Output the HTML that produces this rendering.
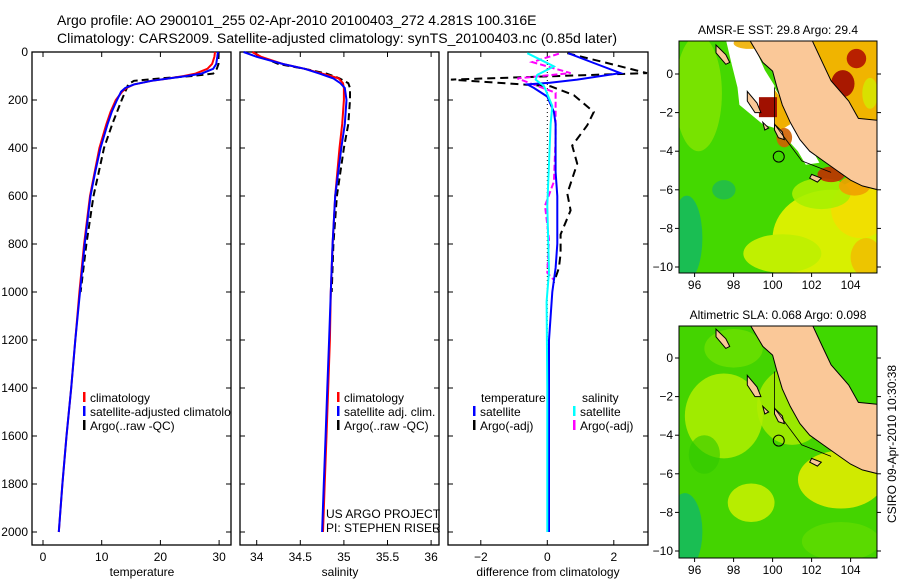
<!DOCTYPE html>
<html><head><meta charset="utf-8"><style>
body{margin:0;background:#fff;}
svg{display:block;font-family:"Liberation Sans",sans-serif;}
</style></head><body>
<svg id="chart" width="900" height="580" viewBox="0 0 900 580">
<defs><clipPath id="p1clip"><rect x="32" y="52" width="199" height="493"/></clipPath></defs>
<text x="57" y="25" font-size="14">Argo profile: AO 2900101_255 02-Apr-2010 20100403_272 4.281S 100.316E</text>
<text x="57" y="43" font-size="14" textLength="560">Climatology: CARS2009. Satellite-adjusted climatology: synTS_20100403.nc (0.85d later)</text>
<g id="g"></g>
</svg>
<script>
// ---------- data ----------
const tDepth=[0,20,50,70,90,100,110,120,135,150,165,200,250,300,400,500,600,800,1000,1200,1400,1600,1800,2000];
const tempClim=[29.3,29.2,28.8,28.0,26.0,24.0,21.5,18.5,15.5,14.2,13.5,12.4,11.5,10.8,9.6,8.8,8.0,7.0,6.2,5.5,4.8,4.0,3.3,2.7];
const tempSat=[29.8,29.7,29.5,29.0,27.0,24.5,21.5,18.5,15.5,14.0,13.3,12.6,11.7,11.0,9.8,8.9,8.1,7.1,6.3,5.5,4.8,4.0,3.3,2.7];
const tempArgo=[29.8,29.9,29.9,29.6,29.0,25.5,20.0,15.5,14.5,14.3,14.0,13.4,12.6,11.8,10.4,9.5,8.6,7.4,6.4];
const sDepth=[0,20,50,70,90,100,110,130,150,200,300,400,600,800,1000,1200,1400,1600,1800,2000];
const salClim=[33.95,34.05,34.30,34.55,34.75,34.85,34.94,34.99,35.00,35.00,34.98,34.95,34.90,34.87,34.85,34.84,34.82,34.80,34.78,34.76];
const salSat=[33.85,34.00,34.30,34.55,34.72,34.80,34.88,34.96,35.01,35.03,35.01,34.97,34.90,34.87,34.85,34.83,34.81,34.79,34.77,34.75];
const salArgo=[33.95,34.05,34.25,34.55,34.80,34.88,34.95,35.05,35.07,35.07,35.05,35.00,34.92,34.88,34.86];
const dDepth=[5,46,88,115,128,135,150,186,250,300,400,500,600,700,800,900,1000,1200,1400,1600,1800,2000];
const dTempSat=[0.63,1.4,2.2,0.9,0.08,-0.6,-0.4,0.0,0.2,0.25,0.25,0.25,0.3,0.3,0.3,0.25,0.15,0.05,0.05,0.05,0.05,0.05];
const daDepth=[5,46,88,115,143,180,250,306,390,465,590,660,760,840,900,960];
const dTempArgo=[0.6,1.8,3.0,-2.9,0.1,0.8,1.4,1.2,0.75,0.9,0.6,0.7,0.4,0.4,0.35,0.2];
const csDepth=[5,60,95,115,142,225,300,640,915,1040,1400,2000];
const dSalSat=[-0.6,0.2,-0.3,-0.35,-0.1,0.15,0.1,0.0,0.05,-0.02,0.0,0.0];
const msDepth=[7,42,88,110,170,360,540,640,780,920,950];
const dSalArgo=[0.35,-0.45,0.7,-0.9,0.25,0.25,0.2,-0.07,0.05,0.0,0.2];
const depthTicks=[0,200,400,600,800,1000,1200,1400,1600,1800,2000];
const tempTicks=[0,10,20,30];
const salTicks=[34,34.5,35,35.5,36];
const diffTicks=[-2,0,2];
const latTicks=[0,-2,-4,-6,-8,-10];
const lonTicks=[96,98,100,102,104];
// ---------- helpers ----------
const NS="http://www.w3.org/2000/svg";
const G=document.getElementById('g');
function mk(tag,at,parent){const e=document.createElementNS(NS,tag);for(const k in at)e.setAttribute(k,at[k]);(parent||G).appendChild(e);return e;}
const yD=d=>52+d*0.24;
const xT=v=>43+v*5.87;
const xS=v=>256.7+(v-34)*87.2;
const xDf=v=>547.3+v*33.25;
function frame(x0,x1,name){
  const r=mk('rect',{x:x0,y:52,width:x1-x0,height:493,fill:'none',stroke:'#000','stroke-width':1.3});
  
  
}
function depthAxis(x0,x1,labels){
  depthTicks.forEach(d=>{
    const y=yD(d);
    mk('line',{x1:x0,x2:x0+5,y1:y,y2:y,stroke:'#000'});
    mk('line',{x1:x1,x2:x1-5,y1:y,y2:y,stroke:'#000'});
    if(labels){const t=mk('text',{x:x0-4,y:y+4,'font-size':12,'text-anchor':'end'});t.textContent=d;
      
      }
  });
}
function xAxis(ticks,fx,fmt,title,cx,name){
  ticks.forEach(v=>{const x=fx(v);
    mk('line',{x1:x,x2:x,y1:545,y2:540,stroke:'#000'});
    mk('line',{x1:x,x2:x,y1:52,y2:57,stroke:'#000'});
    const t=mk('text',{x:x,y:561,'font-size':12,'text-anchor':'middle'});t.textContent=fmt(v);
    
    });
  const t=mk('text',{x:cx,y:576,'font-size':12,'text-anchor':'middle'});t.textContent=title;
  
  
}
function line(depths,vals,fx,color,w,dash,name){
  const pts=vals.map((v,i)=>fx(v).toFixed(1)+','+yD(depths[i]).toFixed(1)).join(' ');
  const p=mk('polyline',{points:pts,fill:'none',stroke:color,'stroke-width':w,'stroke-dasharray':dash||'none'});
  
  
}
function legend(x,y,color,txt,name,clip){
  mk('rect',{x:x,y:y-6,width:2.5,height:10,fill:color});
  const t=mk('text',{x:x+7,y:y+4,'font-size':12});t.textContent=txt;
  if(clip)t.setAttribute('clip-path','url(#p1clip)');
  
  
}
// ---------- panel 1 ----------
frame(32,231,'temperature-panel');depthAxis(32,231,true);
xAxis(tempTicks,xT,v=>v,'temperature',142,'temperature');
line(tDepth.slice(0,tempArgo.length),tempArgo,xT,'#000',2,'7,4','temp-argo-line');
line(tDepth,tempClim,xT,'#f00',2,null,'temp-climatology-line');
line(tDepth,tempSat,xT,'#00f',2,null,'temp-satellite-line');
legend(83,398,'#f00','climatology','legend-climatology');
legend(83,412,'#00f','satellite-adjusted climatology','legend-satellite',true);
legend(83,426,'#000','Argo(..raw -QC)','legend-argo');
// ---------- panel 2 ----------
frame(240,439,'salinity-panel');depthAxis(240,439,false);
xAxis(salTicks,xS,v=>v,'salinity',340,'salinity');
line(sDepth.slice(0,salArgo.length),salArgo,xS,'#000',2,'7,4','sal-argo-line');
line(sDepth,salClim,xS,'#f00',2,null,'sal-climatology-line');
line(sDepth,salSat,xS,'#00f',2,null,'sal-satellite-line');
legend(337,398,'#f00','climatology','legend-sal-climatology');
legend(337,412,'#00f','satellite adj. clim.','legend-sal-satellite');
legend(337,426,'#000','Argo(..raw -QC)','legend-sal-argo');
{const t=mk('text',{x:326,y:518,'font-size':12});t.textContent='US ARGO PROJECT';


const t2=mk('text',{x:326,y:532,'font-size':12});t2.textContent='PI: STEPHEN RISER';

}
// ---------- panel 3 ----------
frame(448,648,'difference-panel');depthAxis(448,648,false);
xAxis(diffTicks,xDf,v=>v===-2?'\u22122':v,'difference from climatology',548,'difference');
mk('line',{x1:xDf(0),x2:xDf(0),y1:yD(0),y2:yD(2000),stroke:'#000','stroke-dasharray':'1,3'});
line(daDepth,dTempArgo,xDf,'#000',2,'8,5','diff-temp-argo-line');
line(msDepth,dSalArgo,xDf,'#f0f',2,'6,3','diff-sal-argo-line');
line(dDepth,dTempSat,xDf,'#00f',2,null,'diff-temp-satellite-line');
line(csDepth,dSalSat,xDf,'#0ff',2,null,'diff-sal-satellite-line');
{const t=mk('text',{x:481,y:402,'font-size':12});t.textContent='temperature';


const t2=mk('text',{x:582,y:402,'font-size':12});t2.textContent='salinity';

}
legend(473,412,'#00f','satellite','legend-diff-temp-sat');
legend(473,426,'#000','Argo(-adj)','legend-diff-temp-argo');
legend(573,412,'#0ff','satellite','legend-diff-sal-sat');
legend(573,426,'#f0f','Argo(-adj)','legend-diff-sal-argo');
// ---------- maps ----------
const mx=lon=>679+(lon-95.2)*19.5;
function drawMap(top,lat0y,title,kind){
  const my=lat=>lat0y-lat*19.3;
  const P=a=>a.map(p=>mx(p[0]).toFixed(1)+','+my(p[1]).toFixed(1)).join(' ');
  const x0=679,x1=877,y0=top,y1=top+232;
  const cid='clip'+kind;
  const cp=mk('clipPath',{id:cid});mk('rect',{x:x0,y:y0,width:x1-x0,height:y1-y0},cp);
  const g=mk('g',{'clip-path':'url(#'+cid+')'});
  
  
  const blob=(lon,lat,rx,ry,c,o)=>mk('ellipse',{cx:mx(lon),cy:my(lat),rx:rx*19.5,ry:ry*19.3,fill:c,opacity:o},g);
  if(kind==='sst'){
    mk('rect',{x:x0,y:y0,width:x1-x0,height:y1-y0,fill:'#44d800'},g);
    blob(96.2,-1,1.2,3,'#7ee400',0.9);
    blob(95.6,-8.5,0.8,2.2,'#10b868',0.8);blob(97.5,-6,0.6,0.5,'#10b070',0.6);
    blob(103,-8.5,3,2.5,'#d8f000',1);blob(104.5,-7,1.5,1.5,'#f0e000',1);
    blob(100.5,-9.3,2,1,'#c0f000',1);blob(104.8,-9.5,0.8,1,'#f0c000',0.9);
    blob(102.5,-6.2,1.5,0.8,'#a8f000',0.9);
    mk('polygon',{points:P([[97.6,1.8],[97.9,0.5],[98.2,-0.7],[98.3,-1.6],[99.5,-2.6],[100.1,-2.8],[100.1,-0.6],[99.6,0.2],[98.9,1.8]]),fill:'#fff'},g);
    mk('polygon',{points:P([[100.1,-0.7],[101.2,-2.5],[101.9,-3.7],[102.4,-4.6],[101.7,-4.7],[101.3,-4.0],[100.4,-3.0],[100.1,-2.6]]),fill:'#fff'},g);
    mk('polygon',{points:P([[100.1,-0.8],[100.6,-1.5],[100.9,-2.6],[100.3,-3],[100.1,-2.6]]),fill:'#f0b000'},g);
    mk('rect',{x:mx(99.3),y:my(-1.2),width:18,height:20,fill:'#a01000'},g);
    blob(100.6,-3.3,0.4,0.5,'#d06000',0.9);blob(103,-5.2,0.7,0.4,'#c03000',0.9);
    blob(104.2,-5.8,0.8,0.5,'#f0a000',0.9);blob(98.8,1.6,0.8,0.3,'#f0b000',0.9);
    mk('polygon',{points:P([[101.8,1.8],[105.4,1.8],[105.4,-3],[103.8,-3],[103.2,-1.5]]),fill:'#f0b400'},g);
    blob(103.6,-0.5,0.6,0.7,'#a81800',1);blob(104.3,0.8,0.5,0.5,'#b82000',1);blob(105,-1,0.4,0.8,'#d8e000',1);
  }else{
    mk('rect',{x:x0,y:y0,width:x1-x0,height:y1-y0,fill:'#44d400'},g);
    blob(97.5,-3,2,2.2,'#b8f000',0.8);blob(98.9,-7.5,1.2,1,'#c4f000',0.9);
    blob(101,-2.5,1.8,2,'#b0ec00',0.8);blob(103.5,-6.3,2.2,1.5,'#e0ec00',0.9);
    blob(95.5,-9,0.9,2,'#10b868',0.8);blob(96.5,-5,0.8,1,'#30c800',0.6);
    blob(98,0.5,1.5,1,'#7ce400',0.6);blob(103.5,-9.5,2,1,'#70e000',0.5);
    mk('polygon',{points:P([[101.8,1.8],[105.4,1.8],[105.4,-3],[103.8,-3],[103.2,-1.5]]),fill:'#40d800'},g);
  }
  const land=[[98.8,1.8],[99.5,0.6],[100.0,0.15],[100.2,-0.6],[100.5,-1.6],[100.9,-2.5],[101.4,-3.4],[101.9,-4.0],[102.6,-4.5],[103.3,-5.0],[104.0,-5.5],[104.6,-5.8],[105.4,-6.0],[105.4,-2.4],[104.4,-2.3],[103.9,-1.4],[103.0,-0.35],[102.6,0.5],[102.0,1.8]];
  mk('polygon',{points:P(land),fill:'#fac898',stroke:'#000','stroke-width':1},g);
  const isl=[[[97.1,1.5],[97.6,1.0],[97.8,0.6],[97.6,0.5],[97.1,1.1]],[[98.7,-0.9],[99.2,-1.5],[99.4,-2.0],[99.1,-2.0],[98.7,-1.4]],[[100.1,-2.6],[100.5,-3.0],[100.6,-3.4],[100.3,-3.3],[100.1,-2.9]],[[102.0,-5.2],[102.5,-5.4],[102.3,-5.6],[101.9,-5.4]],[[99.5,-2.5],[99.8,-2.8],[99.6,-2.9]]];
  isl.forEach(a=>mk('polygon',{points:P(a),fill:'#fac898',stroke:'#000'},g));
  mk('polyline',{points:P([[100.1,-0.7],[100.1,-2.6],[101.5,-4.5],[103,-5.1]]),fill:'none',stroke:'#000','stroke-width':0.8},g);
  const c=mk('circle',{cx:mx(100.316),cy:my(-4.281),r:5.5,fill:kind==='sst'?'#40d800':'none',stroke:'#000'});
  
  
  mk('rect',{x:x0,y:y0,width:x1-x0,height:y1-y0,fill:'none',stroke:'#000'});
  latTicks.forEach(l=>{const y=my(l);
    mk('line',{x1:x0-4,x2:x0,y1:y,y2:y,stroke:'#000'});mk('line',{x1:x1,x2:x1+4,y1:y,y2:y,stroke:'#000'});
    const t=mk('text',{x:x0-6,y:y+4,'font-size':12,'text-anchor':'end'});t.textContent=l===0?'0':'\u2212'+(-l);
    
    });
  lonTicks.forEach(l=>{const x=mx(l);
    mk('line',{x1:x,x2:x,y1:y1,y2:y1+4,stroke:'#000'});
    const t=mk('text',{x:x,y:y1+16,'font-size':12,'text-anchor':'middle'});t.textContent=l;
    
    });
  const t=mk('text',{x:778,y:top-7,'font-size':12,'text-anchor':'middle'});t.textContent=title;
  
  
}
drawMap(41,74,'AMSR-E SST: 29.8 Argo: 29.4','sst');
drawMap(326,358,'Altimetric SLA: 0.068 Argo: 0.098','sla');
{const t=mk('text',{x:0,y:0,'font-size':12,'text-anchor':'middle',transform:'translate(896,444) rotate(-90)'});
t.textContent='CSIRO 09-Apr-2010 10:30:38';

}
</script>
</body></html>
